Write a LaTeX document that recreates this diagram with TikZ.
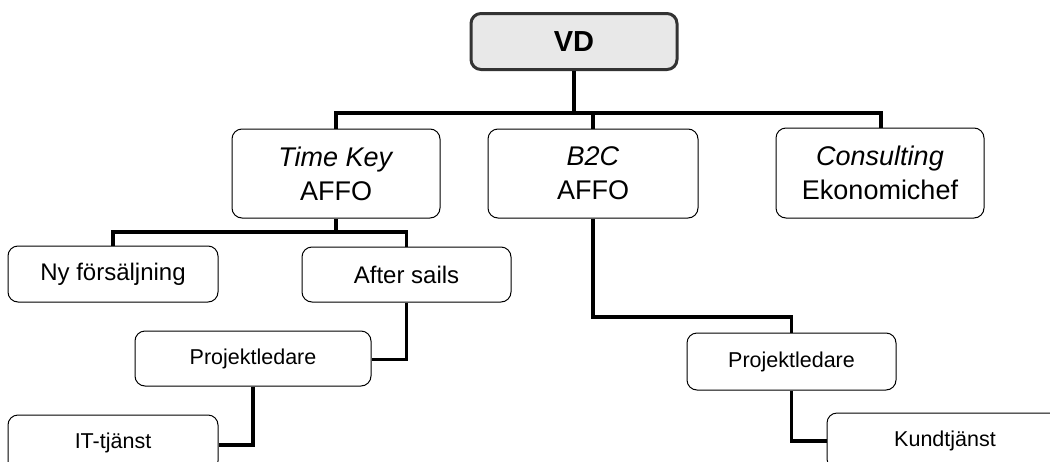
\documentclass[tikz,border=0pt]{standalone}
\usepackage{fontspec}
\setmainfont{Liberation Sans}
\begin{document}
\begin{tikzpicture}[x=1pt,y=-1pt,
  box/.style={draw=black, line width=1pt, rounded corners=10pt, fill=white,
    align=center, inner sep=0pt, text=black},
  topbox/.style={box, font=\fontsize{27}{34}\selectfont},
  midbox/.style={box, font=\fontsize{24}{28}\selectfont},
  lowbox/.style={box, font=\fontsize{21.5}{26}\selectfont},
  link/.style={line width=3.3pt, draw=black}]
\useasboundingbox (0,0) rectangle (1050,461);
\clip (0,0) rectangle (1050,461);

% head
\node[box, fill=black!9, draw=black!80, line width=3pt,
  minimum width=206pt, minimum height=56pt,
  font=\fontsize{29}{34}\selectfont\bfseries] (vd) at (574,41.5) {VD};

% first level
\node[topbox, minimum width=208pt, minimum height=89pt] (tk) at (336,173.5)
  {\textit{Time Key}\\AFFO};
\node[topbox, minimum width=210pt, minimum height=89pt] (b2c) at (593,173.5)
  {\textit{B2C}\\AFFO};
\node[topbox, minimum width=208pt, minimum height=90pt] (cons) at (880,173)
  {\textit{Consulting}\\Ekonomichef};

% second level
\node[midbox, minimum width=210pt, minimum height=56pt] (ny) at (113,274) {Ny försäljning};
\node[midbox, minimum width=209pt, minimum height=55pt] (after) at (406.5,274.5) {After sails};

% project leads
\node[lowbox, minimum width=236pt, minimum height=55pt] (pl1) at (253,358.5) {Projektledare};
\node[lowbox, minimum width=209pt, minimum height=57pt] (pl2) at (791.5,361.5) {Projektledare};

% services
\node[lowbox, minimum width=210pt, minimum height=56pt] (it) at (113,443) {IT-tjänst};
\node[lowbox, minimum width=236pt, minimum height=56pt] (kund) at (945,441) {Kundtjänst};

% junction levels
\coordinate (vdbus) at (574,113);
\coordinate (tkbus) at (336,232);
\coordinate (b2cbus) at (593,317);

% connectors
\draw[link] (vd.south) -- (vdbus);
\draw[link] (vdbus) -| (tk.north);
\draw[link] (vdbus) -| (b2c.north);
\draw[link] (vdbus) -| ([xshift=1pt]cons.north);

\draw[link] (tk.south) -- (tkbus);
\draw[link] (tkbus) -| (ny.north);
\draw[link] (tkbus) -| (after.north);

\draw[link] (after.south) |- ([yshift=-1pt]pl1.east);
\draw[link] (pl1.south) |- ([yshift=-2pt]it.east);

\draw[link] (b2c.south) -- (b2cbus) -| (pl2.north);
\draw[link] (pl2.south) |- (kund.west);
\end{tikzpicture}
\end{document}
